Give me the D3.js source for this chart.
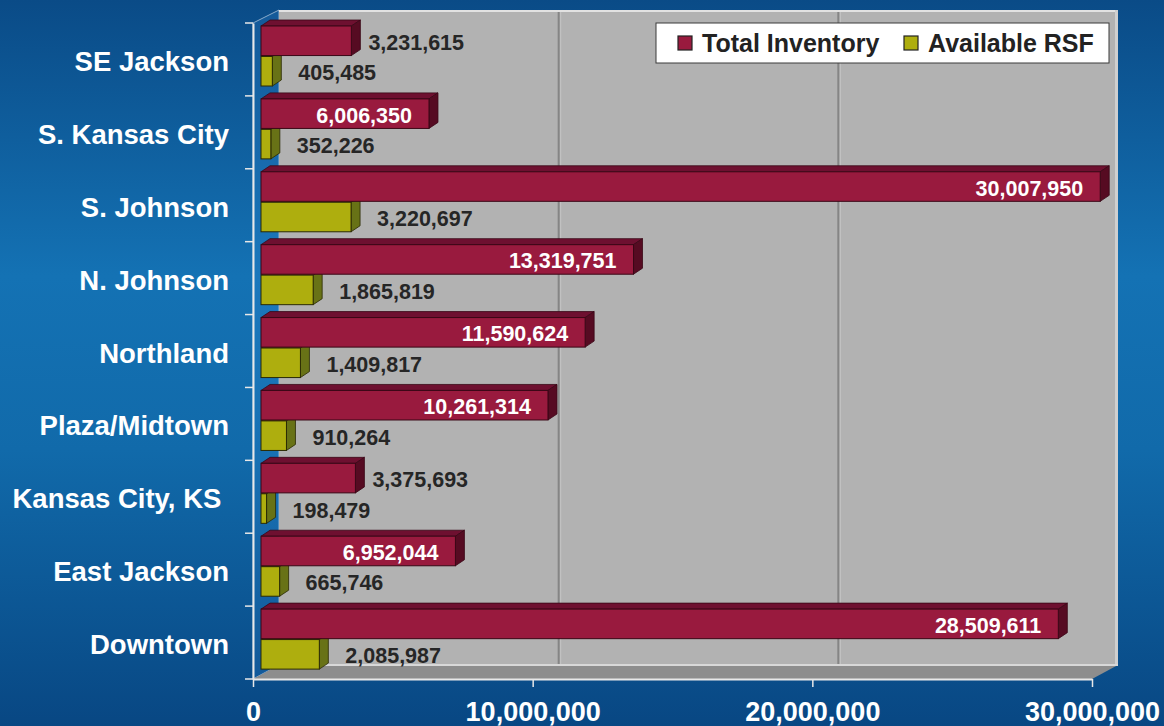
<!DOCTYPE html>
<html>
<head>
<meta charset="utf-8">
<script src="https://cdn.jsdelivr.net/npm/d3@7"></script>
<style>
  html, body { margin: 0; padding: 0; background: #0b5590; }
  svg { display: block; }
  text { font-family: "Liberation Sans", Arial, sans-serif; font-weight: bold; }
</style>
</head>
<body>
<svg id="chart" width="1164" height="726"></svg>
<script>
// ---- data ----
const categories = ["SE Jackson", "S. Kansas City", "S. Johnson", "N. Johnson", "Northland",
  "Plaza/Midtown", "Kansas City, KS ", "East Jackson", "Downtown"];
const totalInventory = [3231615, 6006350, 30007950, 13319751, 11590624, 10261314, 3375693, 6952044, 28509611];
const availableRSF = [405485, 352226, 3220697, 1865819, 1409817, 910264, 198479, 665746, 2085987];
const seriesNames = ["Total Inventory", "Available RSF"];
const xTickValues = [0, 10000000, 20000000, 30000000];

// ---- layout ----
const W = 1164, H = 726;
const svg = d3.select("#chart");
const defs = svg.append("defs");
const bg = defs.append("linearGradient").attr("id", "bg").attr("x1", 0).attr("y1", 0).attr("x2", 0).attr("y2", 1);
bg.append("stop").attr("offset", "0%").attr("stop-color", "#0a4b87");
bg.append("stop").attr("offset", "38%").attr("stop-color", "#1472b4");
bg.append("stop").attr("offset", "62%").attr("stop-color", "#116aaa");
bg.append("stop").attr("offset", "100%").attr("stop-color", "#084783");
svg.append("rect").attr("width", W).attr("height", H).attr("fill", "url(#bg)");

const front = { left: 253, right: 1092, top: 23, bottom: 679 };
const depth = { dx: 26, dy: -12 };
const x = d3.scaleLinear().domain([0, 30000000]).range([front.left, front.right]);
const xBack = v => x(v) + depth.dx;
const y = d3.scaleBand().domain(categories).range([front.top, front.bottom]);
const inner = d3.scaleBand().domain(seriesNames).range([3, 63]).paddingInner(0.03);

const backTop = front.top + depth.dy - 1, backBottom = front.bottom + depth.dy - 2;

// left wall
svg.append("polygon")
  .attr("points", [[front.left, front.top], [xBack(0), backTop], [xBack(0), backBottom], [front.left, front.bottom]].join(" "))
  .attr("fill", "rgba(60,150,230,0.18)").attr("stroke", "rgba(220,230,240,0.6)").attr("stroke-width", 1);
// back wall
svg.append("rect").attr("x", xBack(0)).attr("y", backTop).attr("width", xBack(30000000) - xBack(0))
  .attr("height", backBottom - backTop).attr("fill", "#b2b2b2");
svg.append("line").attr("x1", xBack(0)).attr("x2", xBack(30000000)).attr("y1", backTop + 1).attr("y2", backTop + 1)
  .attr("stroke", "#e2e2e2").attr("stroke-width", 2);
svg.append("line").attr("x1", xBack(30000000) - 1.5).attr("x2", xBack(30000000) - 1.5).attr("y1", backTop).attr("y2", backBottom)
  .attr("stroke", "#cfcfcf").attr("stroke-width", 3);
// gridlines
[10000000, 20000000].forEach(v => {
  svg.append("line").attr("x1", xBack(v)).attr("x2", xBack(v)).attr("y1", backTop + 2).attr("y2", backBottom)
    .attr("stroke", "#858585").attr("stroke-width", 2);
  svg.append("line").attr("x1", xBack(v) + 2).attr("x2", xBack(v) + 2).attr("y1", backTop + 2).attr("y2", backBottom)
    .attr("stroke", "#c4c4c4").attr("stroke-width", 1);
});
// floor
svg.append("polygon")
  .attr("points", [[front.left, front.bottom], [xBack(0), backBottom], [xBack(30000000), backBottom], [x(30000000), front.bottom]].join(" "))
  .attr("fill", "#8d8d8d");
svg.append("line").attr("x1", xBack(0)).attr("x2", xBack(30000000)).attr("y1", backBottom).attr("y2", backBottom)
  .attr("stroke", "#d8d8d8").attr("stroke-width", 2);

// ---- bars ----
const barOff = 8;
const xb = v => x(v) + barOff;   // bar front face
const bd = { dx: 9, dy: -6 };
const styles = {
  "Total Inventory": { front: "#991a3e", top: "#6e1030", side: "#560b22", stroke: "#3a0716" },
  "Available RSF": { front: "#aeae0e", top: "#84840a", side: "#687216", stroke: "#2a2a04" }
};

function drawBar(g, s, y0, v) {
  const st = styles[s];
  const h = inner.bandwidth();
  const x0 = xb(0), x1 = xb(v), y1 = y0 + h;
  g.append("polygon").attr("points", [[x0, y0], [x0 + bd.dx, y0 + bd.dy], [x1 + bd.dx, y0 + bd.dy], [x1, y0]].join(" "))
    .attr("fill", st.top).attr("stroke", st.stroke).attr("stroke-width", 0.8);
  g.append("polygon").attr("points", [[x1, y0], [x1 + bd.dx, y0 + bd.dy], [x1 + bd.dx, y1 + bd.dy], [x1, y1]].join(" "))
    .attr("fill", st.side).attr("stroke", st.stroke).attr("stroke-width", 0.8);
  g.append("rect").attr("x", x0).attr("y", y0).attr("width", x1 - x0).attr("height", h)
    .attr("fill", st.front).attr("stroke", st.stroke).attr("stroke-width", 1);
}

const fmt = d3.format(",");
const barsG = svg.append("g");
categories.forEach((c, i) => {
  const g = barsG.append("g");
  const yA = y(c) + inner("Available RSF");
  const yT = y(c) + inner("Total Inventory");
  drawBar(g, "Available RSF", yA, availableRSF[i]);
  drawBar(g, "Total Inventory", yT, totalInventory[i]);
});
// labels
const labG = svg.append("g").attr("font-size", "21.5px");
categories.forEach((c, i) => {
  const h = inner.bandwidth();
  const vT = totalInventory[i];
  const yT = y(c) + inner("Total Inventory") + h / 2 + 2;
  const insideT = vT > 5000000;
  labG.append("text")
    .attr("x", insideT ? xb(vT) - 17 : xb(vT) + 17)
    .attr("y", yT).attr("dominant-baseline", "central")
    .attr("text-anchor", insideT ? "end" : "start")
    .attr("fill", insideT ? "#ffffff" : "#262626")
    .text(fmt(vT));
  const vA = availableRSF[i];
  const yA = y(c) + inner("Available RSF") + h / 2 + 2;
  labG.append("text")
    .attr("x", xb(vA) + 26).attr("y", yA).attr("dominant-baseline", "central")
    .attr("text-anchor", "start").attr("fill", "#262626")
    .text(fmt(vA));
});

// ---- axes ----
const xAxis = svg.append("g").attr("transform", `translate(0,${front.bottom})`)
  .call(d3.axisBottom(x).tickValues(xTickValues).tickFormat(fmt).tickSize(8).tickSizeOuter(0));
xAxis.select(".domain").attr("stroke", "#e8e8e8").attr("stroke-width", 2);
xAxis.selectAll(".tick line").attr("stroke", "#e8e8e8").attr("stroke-width", 1.5);
xAxis.selectAll(".tick text").attr("fill", "#ffffff").attr("font-size", "27px")
  .attr("font-family", "'Liberation Sans', Arial, sans-serif").attr("font-weight", "bold")
  .attr("dy", null).attr("y", 42);

const yAxis = svg.append("g").attr("transform", `translate(${front.left},0)`)
  .call(d3.axisLeft(y).tickSize(0).tickPadding(24));
yAxis.select(".domain").attr("stroke", "#e8e8e8").attr("stroke-width", 2);
yAxis.selectAll(".tick text").attr("fill", "#ffffff").attr("font-size", "27.5px")
  .attr("font-family", "'Liberation Sans', Arial, sans-serif").attr("font-weight", "bold")
  .attr("dy", "0.42em")
  .style("white-space", "pre");
// category boundary ticks
const bounds = categories.map(c => y(c)).concat([y.range()[1]]);
svg.append("g").selectAll("line").data(bounds).join("line")
  .attr("x1", front.left - 8).attr("x2", front.left).attr("y1", d => d).attr("y2", d => d)
  .attr("stroke", "#e8e8e8").attr("stroke-width", 1.5);

// ---- legend ----
const lg = svg.append("g");
lg.append("rect").attr("x", 656).attr("y", 23).attr("width", 453).attr("height", 40)
  .attr("fill", "#ffffff").attr("stroke", "#3a3a3a").attr("stroke-width", 1);
const legendX = [678, 904];
seriesNames.forEach((s, i) => {
  lg.append("rect").attr("x", legendX[i]).attr("y", 36).attr("width", 14).attr("height", 14)
    .attr("fill", styles[s].front).attr("stroke", "#222").attr("stroke-width", 1.2);
  lg.append("text").attr("x", legendX[i] + 24).attr("y", 52).attr("font-size", "25px")
    .attr("fill", "#222222").text(s);
});
</script>
</body>
</html>
